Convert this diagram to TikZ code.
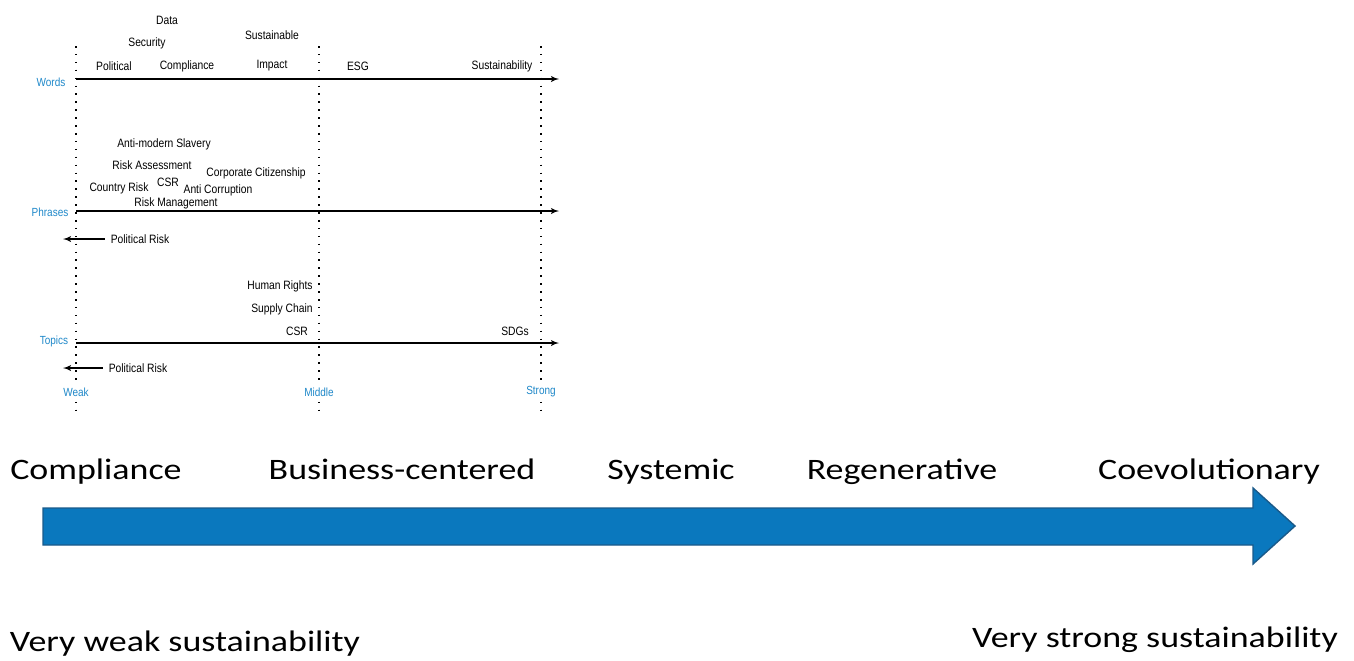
\documentclass[tikz,border=0pt]{standalone}
\usepackage{fontspec}
\setmainfont{Carlito}
\newfontfamily\chartfont[FakeStretch=0.85]{Liberation Sans}
\newfontfamily\stagefont[FakeStretch=1.21]{Carlito}
\usepackage{tikz}
\usetikzlibrary{arrows}
\definecolor{labelblue}{HTML}{1F88C9}
\definecolor{arrowblue}{HTML}{0A78BE}
\definecolor{edgeblue}{HTML}{1A5A8A}

\begin{document}
\begin{tikzpicture}[
		x=0.02cm, y=-0.02cm,
		word/.style={font=\chartfont\fontsize{6.9pt}{8pt}\selectfont, inner sep=1pt},
		axislabel/.style={font=\chartfont\fontsize{6.7pt}{8pt}\selectfont, text=labelblue, inner sep=1pt},
		levellabel/.style={axislabel, fill=white, inner sep=1.5pt},
		stage/.style={font=\stagefont\fontsize{16.9pt}{20pt}\selectfont, inner sep=0pt, anchor=base},
		level/.style={dash pattern=on 0.9pt off 3.6pt, line width=0.9pt},
		axis/.style={->, line width=0.6pt},
		>=latex']
	\useasboundingbox (0,0) rectangle (1354,660);
	%% define levels
	\coordinate (weaktop) at (76,46);
	\coordinate (weakbot) at (76,410);
	\coordinate (middletop) at (319,46);
	\coordinate (middlebot) at (319,410);
	\coordinate (strongtop) at (541,46);
	\coordinate (strongbot) at (541,410);
	\draw[level] (weaktop) -- (weakbot);
	\draw[level] (middletop) -- (middlebot);
	\draw[level] (strongtop) -- (strongbot);
	%% define axes
	\coordinate (words0) at (76,79);
	\coordinate (words1) at (559,79);
	\coordinate (phrases0) at (76,211);
	\coordinate (phrases1) at (559,211);
	\coordinate (topics0) at (76,343);
	\coordinate (topics1) at (559,343);
	\draw[axis] (words0) -- (words1);
	\draw[axis] (phrases0) -- (phrases1);
	\draw[axis] (topics0) -- (topics1);
	\node (words) at (51,82) [axislabel] {Words};
	\node (phrases) at (50,212) [axislabel] {Phrases};
	\node (topics) at (54,341) [axislabel] {Topics};
	\node (weak) at (76,392) [levellabel] {Weak};
	\node (middle) at (319,392) [levellabel] {Middle};
	\node (strong) at (541,392) [levellabel] {Strong};
	%% define words
	\node (data) at (167,20) [word] {Data};
	\node (security) at (147,43) [word] {Security};
	\node (sustainable) at (272,35) [word] {Sustainable};
	\node (political) at (114,66) [word] {Political};
	\node (compliance) at (187,66) [word] {Compliance};
	\node (impact) at (272,66) [word] {Impact};
	\node (esg) at (358,66) [word] {ESG};
	\node (sustainability) at (502,66) [word] {Sustainability};
	%% define phrases
	\node (slavery) at (164,144) [word] {Anti-modern Slavery};
	\node (riskassess) at (152,165) [word] {Risk Assessment};
	\node (citizenship) at (256,173) [word] {Corporate Citizenship};
	\node (countryrisk) at (119,188) [word] {Country Risk};
	\node (csrphrase) at (168,182) [word] {CSR};
	\node (corruption) at (218,190) [word] {Anti Corruption};
	\node (riskmanage) at (176,203) [word] {Risk Management};
	\node (prphrase) at (140,239) [word] {Political Risk};
	\coordinate (prphraseend) at (63,239);
	\draw[axis] (prphrase.west) ++(-4,0) -- (prphraseend);
	%% define topics
	\node (humanrights) at (280,286) [word] {Human Rights};
	\node (supplychain) at (282,309) [word] {Supply Chain};
	\node (csrtopic) at (297,331) [word] {CSR};
	\node (sdgs) at (515,331) [word] {SDGs};
	\node (prtopic) at (138,368) [word] {Political Risk};
	\coordinate (prtopicend) at (63,368);
	\draw[axis] (prtopic.west) ++(-4,0) -- (prtopicend);
	%% define scale
	\node (stcompliance) at (96,479) [stage] {Compliance};
	\node (stbusiness) at (402,479) [stage] {Business-centered};
	\node (stsystemic) at (671,479) [stage] {Systemic};
	\node (stregen) at (902,479) [stage] {Regenerative};
	\node (stcoevo) at (1209,479) [stage] {Coevolutionary};
	\draw[fill=arrowblue,draw=edgeblue,line width=0.8pt,line join=miter]
		(43,508) -- (1253,508) -- (1253,488) -- (1295,526) -- (1253,564) -- (1253,545) -- (43,545) -- cycle;
	\node (veryweak) at (185,651) [stage] {Very weak sustainability};
	\node (verystrong) at (1155,647) [stage] {Very strong sustainability};
\end{tikzpicture}
\end{document}
